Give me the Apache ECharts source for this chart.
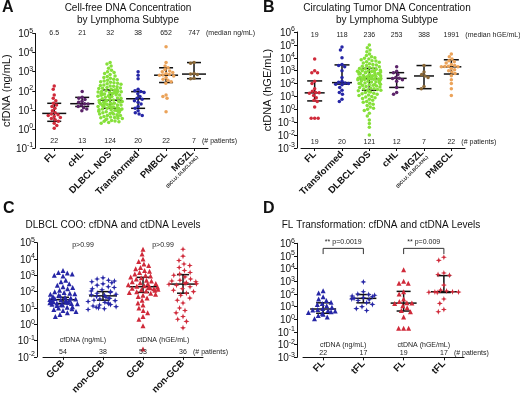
<!DOCTYPE html>
<html>
<head>
<meta charset="utf-8">
<script src="https://cdn.jsdelivr.net/npm/echarts@6/dist/echarts.min.js"></script>
<style>
  html, body { margin: 0; padding: 0; background: #fff; }
  #chart { width: 520px; height: 397px; }
</style>
</head>
<body>
<div id="chart"></div>
<script>
const FONT = "'Liberation Sans', Arial, Helvetica, sans-serif";

// ---- panel A: cfDNA (ng/mL) by subtype
const subtypesA = ["FL", "cHL", "DLBCL NOS", "Transformed", "PMBCL", "MGZL"];
const mediansA = ["6.5", "21", "32", "38", "652", "747"];
const patientsA = ["22", "13", "124", "20", "22", "7"];
const cfFL = [180, 120, 60, 40, 30, 22, 18, 15, 12, 9, 7, 6, 5.5, 5, 4.5, 4, 3.5, 3, 2.5, 2, 1.5, 1.1];
const cfCHL = [90, 45, 40, 35, 28, 25, 21, 20, 18, 15, 13, 11, 9];
const cfDLBCL = [3000, 2500, 2000, 1500, 1200, 1000, 900, 800, 700, 600, 550, 500,
  450, 400, 380, 350, 320, 300, 280, 260, 250, 230, 220, 200, 190, 180, 170, 160, 150,
  140, 135, 130, 120, 115, 110, 105, 100, 95, 90, 88, 85, 82, 80,
  78, 75, 72, 70, 68, 65, 62, 60, 58, 55, 52, 50, 48, 45, 42, 40, 38, 35, 33,
  31, 30, 29, 28, 27, 26, 25, 24, 23, 22, 21, 20, 20, 19, 18, 18, 17, 16, 16, 15, 15,
  14, 14, 13, 13, 12, 12, 11, 11, 10, 10, 10, 9.5, 9, 9, 8.5, 8, 8, 7.5, 7, 7, 6.5,
  6, 6, 5.5, 5, 5, 4.8, 4.5, 4.2, 4, 3.8, 3.6, 3.5, 3.3, 3, 2.8, 2.6, 2.5, 2.4, 2.2, 2];
const cfTransformed = [1000, 650, 420, 120, 100, 90, 80, 70, 50, 40, 36, 30, 25, 20, 15, 12, 9, 7, 6, 5];
const cfPMBCL = [20000, 3000, 2000, 1600, 1300, 1100, 1000, 900, 800, 700, 660, 645, 600, 500, 400, 350, 300, 250, 60, 50, 40, 8];
const cfMGZL = [3000, 2800, 800, 747, 700, 450, 420];
const barsA = [[6.5, 2.5, 22], [21, 15, 45], [32, 12, 110], [38, 12, 90], [652, 270, 1600], [747, 430, 3000]];

// ---- panel B: ctDNA (hGE/mL) by subtype
const subtypesB = ["FL", "Transformed", "DLBCL NOS", "cHL", "MGZL", "PMBCL"];
const mediansB = ["19", "118", "236", "253", "388", "1991"];
const patientsB = ["19", "20", "121", "12", "7", "22"];
const ctFL = [8000, 1000, 700, 700, 150, 100, 40, 25, 20, 19, 18, 12, 8, 5, 4, 1.5, 0.2, 0.2, 0.2];
const ctTransformed = [70000, 40000, 10000, 3000, 2500, 2000, 1000, 300, 150, 125, 110, 100, 90, 80, 50, 30, 20, 15, 6, 4];
const ctDLBCL = [100000, 60000, 40000, 30000, 20000, 15000, 12000, 10000, 9000, 8000, 7000, 6000, 5500, 5000,
  4500, 4000, 3500, 3000, 2800, 2500, 2200, 2000, 1800, 1600, 1500, 1400, 1300, 1200, 1100, 1000, 1000,
  950, 900, 850, 800, 800, 750, 700, 650, 600, 600,
  560, 520, 500, 480, 450, 420, 400, 380, 350, 330, 310, 300, 290, 270, 260, 250, 245, 240, 238, 236,
  230, 220, 210, 200, 190, 180, 170, 160, 150, 140, 130, 120, 110, 100,
  95, 90, 85, 80, 75, 70, 65, 60, 55, 50,
  45, 40, 38, 35, 32, 30, 28, 25, 22, 20, 18, 16, 15, 13, 12, 10,
  9, 8, 7, 6, 5, 4, 3.5, 3, 2.5, 2, 1.5, 1.2, 1, 0.8, 0.5, 0.3, 0.15, 0.08, 0.04, 0.01];
const ctCHL = [2000, 900, 700, 500, 300, 260, 246, 200, 150, 50, 20, 15];
const ctMGZL = [2500, 800, 500, 388, 300, 60, 40];
const ctPMBCL = [20000, 12000, 8000, 6000, 5000, 4000, 3000, 2500, 2200, 2100, 2000, 1982, 1500, 1200, 1000, 800, 600, 400, 200, 100, 40, 12];
const barsB = [[19, 4.5, 160], [118, 90, 2800], [236, 30, 1500], [253, 50, 700], [388, 40, 2500], [1991, 550, 7000]];

// ---- panel C: DLBCL cell of origin
const cooC = ["GCB", "non-GCB", "GCB", "non-GCB"];
const patientsC = ["54", "38", "53", "36"];
const cfGCB = [2000, 1500, 1400, 1200, 1000, 900, 500, 400, 300, 250, 200, 180, 150, 120, 100, 90, 80, 75, 70,
  60, 55, 50, 45, 40, 38, 35, 33, 31, 30, 28, 27, 26, 25, 24, 23, 22, 21, 20, 19, 18, 17, 16, 15, 14, 12,
  11, 10, 9, 8, 7, 6, 5, 4, 3];
const cfNonGCB = [700, 600, 500, 450, 400, 350, 300, 250, 200, 180, 150, 130, 110, 100, 90, 80, 70, 65, 60,
  50, 45, 40, 38, 35, 30, 28, 25, 22, 20, 18, 16, 15, 13, 12, 11, 10, 9, 8];
const ctGCB = [40000, 20000, 10000, 7000, 5000, 4000, 3000, 2500, 2000, 1800, 1500, 1200, 1000, 900, 800, 700,
  600, 500, 450, 400, 350, 320, 300, 260, 230, 210, 200, 190, 180, 170, 160, 150, 140, 130, 120, 110, 100,
  90, 80, 70, 60, 50, 40, 30, 20, 15, 10, 7, 5, 3, 2, 0.8, 0.03];
const ctNonGCB = [40000, 15000, 8000, 5000, 4000, 3000, 2000, 1500, 1200, 1000, 800, 600, 500, 450, 400, 350, 320, 300,
  280, 250, 200, 150, 120, 100, 80, 60, 40, 30, 20, 10, 7, 5, 3, 2, 1.5, 0.6];
const barsC = [[32, 18, 45], [55, 30, 100], [200, 90, 750], [290, 80, 1100]];

// ---- panel D: FL transformation
const groupsD = ["FL", "tFL", "FL", "tFL"];
const patientsD = ["22", "17", "19", "17"];
const cfTFL = [900, 150, 100, 90, 80, 70, 60, 50, 45, 40, 35, 30, 20, 15, 10, 7, 5];
const ctTFL = [80000, 45000, 4500, 3500, 3000, 500, 200, 170, 150, 145, 140, 135, 130, 40, 18, 6, 4];
const barsD = [[6.5, 3, 20], [45, 20, 90], [19, 4.5, 160], [150, 130, 2800]];

const RED = "#d02a3a", PURPLE = "#5b2369", GREEN = "#86e03a", BLUE = "#2626a6", ORANGE = "#eba35a", BROWN = "#8a6837";
const STAR = "path://M0,-10 L2.6,-2.6 L10,0 L2.6,2.6 L0,10 L-2.6,2.6 L-10,0 L-2.6,-2.6 Z";

function sup(v) {
  return "{a|10}{b|" + Math.round(Math.log10(v)) + "}";
}

function yAxis(grid, min, max, offset, name, nameGap) {
  return {
    type: "log", gridIndex: grid, logBase: 10, min, max, splitNumber: 12, offset,
    name, nameLocation: "middle", nameGap,
    nameTextStyle: { fontFamily: FONT, fontSize: 11, color: "#111" },
    axisLine: { show: true, lineStyle: { color: "#111", width: 1 } },
    axisTick: { show: true, length: 3, lineStyle: { color: "#111" } },
    minorTick: { show: false },
    splitLine: { show: false },
    axisLabel: {
      margin: 2, formatter: sup, showMinLabel: true, showMaxLabel: true, hideOverlap: false,
      rich: {
        a: { fontFamily: FONT, fontSize: 10, color: "#111", verticalAlign: "bottom", lineHeight: 12 },
        b: { fontFamily: FONT, fontSize: 7, color: "#111", verticalAlign: "top", lineHeight: 12 }
      }
    }
  };
}

function xAxis(grid, cats, jitter) {
  return {
    type: "category", gridIndex: grid, data: cats, boundaryGap: true,
    jitter, jitterOverlap: false, jitterMargin: 0,
    axisLine: { show: true, lineStyle: { color: "#111", width: 1 } },
    axisTick: { show: true, alignWithLabel: true, length: 3, lineStyle: { color: "#111" } },
    splitLine: { show: false },
    axisLabel: {
      interval: 0, rotate: 45, margin: 5,
      formatter: (v) => v === "MGZL" ? "{b|MGZL}\n{s|(BCLU; DLBCL/cHL)}" : "{b|" + v + "}",
      rich: {
        b: { fontFamily: FONT, fontSize: 9.5, fontWeight: "bold", color: "#111" },
        s: { fontFamily: FONT, fontSize: 4.5, fontWeight: "bold", color: "#111", align: "right" }
      }
    }
  };
}

function dots(grid, idx, values, color, symbol, size) {
  return {
    type: "scatter", xAxisIndex: grid, yAxisIndex: grid, symbol, symbolSize: size,
    itemStyle: { color, opacity: 1 }, z: 3, silent: true,
    data: values.map((v) => [idx, v])
  };
}

function bars(grid, rows, medW, capW) {
  return {
    type: "custom", xAxisIndex: grid, yAxisIndex: grid, z: 2, silent: true,
    data: rows.map((r, i) => [i, r[0], r[1], r[2]]),
    encode: { x: 0, y: [1, 2, 3] },
    renderItem: (params, api) => {
      const i = api.value(0);
      const m = api.coord([i, api.value(1)]);
      const lo = api.coord([i, api.value(2)]);
      const hi = api.coord([i, api.value(3)]);
      const st = { stroke: "#111", lineWidth: 1.5 };
      const hline = (p, w) => ({ type: "line", shape: { x1: p[0] - w / 2, y1: p[1], x2: p[0] + w / 2, y2: p[1] }, style: st });
      return {
        type: "group",
        children: [
          hline(m, medW),
          { type: "line", shape: { x1: lo[0], y1: lo[1], x2: hi[0], y2: hi[1] }, style: st },
          hline(lo, capW),
          hline(hi, capW)
        ]
      };
    }
  };
}

// a row of small texts, one per category, at a fixed level on the log axis
function textRow(grid, labels, level, suffix) {
  return {
    type: "custom", xAxisIndex: grid, yAxisIndex: grid, z: 4, silent: true, clip: false,
    data: labels.map((t, i) => [i, level]),
    renderItem: (params, api) => {
      const p = api.coord([api.value(0), api.value(1)]);
      const t = labels[params.dataIndex];
      const st = { fontFamily: FONT, fontSize: 7, fill: "#222", verticalAlign: "middle" };
      const kids = [{ type: "text", x: p[0], y: p[1], style: Object.assign({ text: t, align: "center" }, st) }];
      if (suffix && params.dataIndex === labels.length - 1) {
        kids.push({ type: "text", x: p[0] + t.length * 2 + 6, y: p[1], style: Object.assign({ text: suffix, align: "left" }, st) });
      }
      return { type: "group", children: kids };
    }
  };
}

// a text centred between two categories
function note(grid, text, from, to, level, size) {
  return {
    type: "custom", xAxisIndex: grid, yAxisIndex: grid, z: 4, silent: true, clip: false,
    data: [[from, level, to]],
    renderItem: (params, api) => {
      const a = api.coord([api.value(0), api.value(1)]);
      const b = api.coord([api.value(2), api.value(1)]);
      return {
        type: "text", x: (a[0] + b[0]) / 2, y: a[1],
        style: { text, align: "center", verticalAlign: "middle", fontFamily: FONT, fontSize: size, fill: "#222" }
      };
    }
  };
}

// significance bracket between two categories
function bracket(grid, from, to, top, foot) {
  return {
    type: "custom", xAxisIndex: grid, yAxisIndex: grid, z: 4, silent: true, clip: false,
    data: [[from, top, to, foot]],
    renderItem: (params, api) => {
      const a0 = api.coord([api.value(0), api.value(3)]);
      const a1 = api.coord([api.value(0), api.value(1)]);
      const b1 = api.coord([api.value(2), api.value(1)]);
      const b0 = api.coord([api.value(2), api.value(3)]);
      return { type: "polyline", shape: { points: [a0, a1, b1, b0] }, style: { stroke: "#333", lineWidth: 1, fill: null } };
    }
  };
}

function label(x, y, text, size, weight, align) {
  return {
    type: "text", x, y,
    style: { text, fontFamily: FONT, fontSize: size, fontWeight: weight, fill: "#111", align: align || "left", verticalAlign: "top", lineHeight: 12 }
  };
}

const chart = echarts.init(document.getElementById("chart"), null, { renderer: "canvas" });
chart.setOption({
  animation: false,
  backgroundColor: "#fff",
  grid: [
    { left: 40, top: 33.5, width: 168, height: 114.5 },
    { left: 301, top: 32, width: 164, height: 116 },
    { left: 43, top: 242.7, width: 160, height: 114.6 },
    { left: 303, top: 243.3, width: 161, height: 114 }
  ],
  xAxis: [
    xAxis(0, subtypesA, 28),
    xAxis(1, subtypesB, 28),
    xAxis(2, cooC, 30),
    xAxis(3, groupsD, 30)
  ],
  yAxis: [
    yAxis(0, 0.1, 1e5, 5, "cfDNA (ng/mL)", 22),
    yAxis(1, 0.001, 1e6, 4, "ctDNA (hGE/mL)", 22),
    yAxis(2, 0.01, 1e5, 6, "", 0),
    yAxis(3, 0.001, 1e6, 6, "", 0)
  ],
  graphic: [
    label(2, 2, "A", 16, "bold"),
    label(263, 2, "B", 16, "bold"),
    label(3, 203, "C", 16, "bold"),
    label(263, 203, "D", 16, "bold"),
    label(128, 2, "Cell-free DNA Concentration\nby Lymphoma Subtype", 10, "normal", "center"),
    label(387, 2, "Circulating Tumor DNA Concentration\nby Lymphoma Subtype", 10, "normal", "center"),
    label(113, 219, "DLBCL COO: cfDNA and ctDNA Levels", 10, "normal", "center"),
    label(381, 219, "FL Transformation: cfDNA and ctDNA Levels", 10, "normal", "center")
  ],
  series: [
    // A
    bars(0, barsA, 24, 14),
    dots(0, 0, cfFL, RED, "circle", 3.5),
    dots(0, 1, cfCHL, PURPLE, "circle", 3.5),
    dots(0, 2, cfDLBCL, GREEN, "circle", 3.5),
    dots(0, 3, cfTransformed, BLUE, "circle", 3.5),
    dots(0, 4, cfPMBCL, ORANGE, "circle", 3.5),
    dots(0, 5, cfMGZL, BROWN, "circle", 3.5),
    textRow(0, mediansA, 1e5, "(median ng/mL)"),
    textRow(0, patientsA, Math.pow(10, -0.65), "(# patients)"),
    // B
    bars(1, barsB, 20, 15),
    dots(1, 0, ctFL, RED, "circle", 3.5),
    dots(1, 1, ctTransformed, BLUE, "circle", 3.5),
    dots(1, 2, ctDLBCL, GREEN, "circle", 3.5),
    dots(1, 3, ctCHL, PURPLE, "circle", 3.5),
    dots(1, 4, ctMGZL, BROWN, "circle", 3.5),
    dots(1, 5, ctPMBCL, ORANGE, "circle", 3.5),
    textRow(1, mediansB, Math.pow(10, 5.75), "(median hGE/mL)"),
    textRow(1, patientsB, Math.pow(10, -2.55), "(# patients)"),
    // C
    bars(2, barsC, 28, 12),
    dots(2, 0, cfGCB, BLUE, "triangle", 5),
    dots(2, 1, cfNonGCB, BLUE, STAR, 6),
    dots(2, 2, ctGCB, RED, "triangle", 5),
    dots(2, 3, ctNonGCB, RED, STAR, 6),
    textRow(2, patientsC, Math.pow(10, -1.7), "(# patients)"),
    note(2, "p>0.99", 0, 1, Math.pow(10, 4.86), 7),
    note(2, "p>0.99", 2, 3, Math.pow(10, 4.86), 7),
    note(2, "cfDNA (ng/mL)", 0, 1, 0.1, 7),
    note(2, "ctDNA (hGE/mL)", 2, 3, 0.1, 7),
    // D
    bars(3, barsD, 26, 14),
    dots(3, 0, cfFL, BLUE, "triangle", 5),
    dots(3, 1, cfTFL, BLUE, STAR, 6),
    dots(3, 2, ctFL, RED, "triangle", 5),
    dots(3, 3, ctTFL, RED, STAR, 6),
    textRow(3, patientsD, Math.pow(10, -2.7), "(# patients)"),
    note(3, "cfDNA (ng/mL)", 0, 1, 0.01, 7),
    note(3, "ctDNA (hGE/mL)", 2, 3, 0.01, 7),
    note(3, "** p=0.0019", 0, 1, Math.pow(10, 6.1), 7),
    note(3, "** p=0.009", 2, 3, Math.pow(10, 6.1), 7),
    bracket(3, 0, 1, Math.pow(10, 5.6), Math.pow(10, 5.15)),
    bracket(3, 2, 3, Math.pow(10, 5.6), Math.pow(10, 5.15))
  ]
});
</script>
</body>
</html>
